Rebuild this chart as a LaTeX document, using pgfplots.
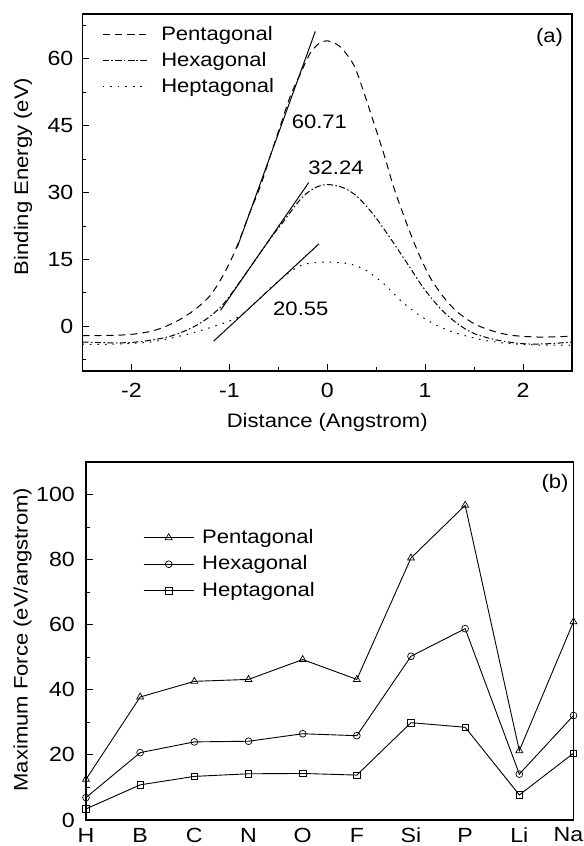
\documentclass[border=0pt]{standalone}
\usepackage{fontspec}
\setmainfont{Liberation Sans}[FakeStretch=1.13]
\usepackage{pgfplots}
\pgfplotsset{compat=1.18}
\begin{document}
\fontsize{19.5bp}{23bp}\selectfont
\begin{tikzpicture}
\path[use as bounding box] (0,0) rectangle (584bp,846bp);
\pgfplotsset{
  every axis/.append style={
    scale only axis,
    axis line style={line width=1.3bp},
    tick align=inside,
    tick pos=left,
    major tick length=7bp,
    minor tick length=3.5bp,
    tick style={line width=0.9bp,black},
    /pgf/number format/assume math mode=true,
    tick label style={font=\fontsize{20.5bp}{24bp}\selectfont},
    xticklabel style={anchor=center, inner sep=0pt, yshift=-19bp},
    yticklabel style={anchor=east, inner sep=0pt, xshift=-9bp},
    legend cell align=left,
  },
}
% ---------------- panel (a) ----------------
\begin{axis}[
  at={(82.5bp,475bp)}, anchor=south west,
  width=489.5bp, height=357bp,
  xmin=-2.5, xmax=2.5, ymin=-10, ymax=70,
  xtick={-2,-1,0,1,2}, xticklabels={-2,-1,0,1,2},
  minor xtick={-1.5,-0.5,0.5,1.5},
  ytick={0,15,30,45,60}, yticklabels={0,15,30,45,60},
  minor ytick={-7.5,7.5,22.5,37.5,52.5,67.5},
  xlabel={Distance (Angstrom)},
  ylabel={Binding Energy (eV)},
  xlabel style={at={(axis description cs:0.5,-0.143)}, anchor=center, inner sep=0pt},
  ylabel style={at={(axis description cs:-0.1216,0.545)}, anchor=center, inner sep=0pt},
  legend image code/.code={\draw plot coordinates {(0bp,0bp) (45bp,0bp)};},
  legend style={at={(axis description cs:0.04,0.966)}, anchor=north west,
    draw=none, fill=none, inner sep=0pt, row sep=9bp,
    nodes={inner sep=0pt},
    /tikz/every odd column/.append style={column sep=13bp}},
]
\addplot[black, line width=1bp, dash pattern=on 7bp off 5bp, smooth] coordinates {
(-2.5,-2.1) (-2.2,-2.0) (-2.0,-1.8) (-1.8,-1.1) (-1.65,0.0) (-1.5,1.6)
(-1.35,3.8) (-1.2,6.8) (-1.08,10.8) (-0.97,15.5) (-0.88,20.3) (-0.8,25.0)
(-0.68,31.6) (-0.58,38.3) (-0.47,45.6) (-0.37,52.0) (-0.27,56.8) (-0.18,61.0)
(-0.09,63.3) (0,64.0) (0.13,62.7) (0.27,58.6) (0.37,52.7) (0.47,46.0)
(0.58,38.5) (0.68,31.1) (0.80,23.7) (0.92,17.0) (1.05,11.0) (1.19,6.5)
(1.33,3.2) (1.5,0.6) (1.67,-0.9) (1.88,-2.0) (2.18,-2.4) (2.5,-2.2)
};
\addlegendentry{Pentagonal}
\addplot[black, line width=1bp, dash pattern=on 6bp off 2.5bp on 1.5bp off 2.5bp, smooth] coordinates {
(-2.5,-3.5) (-2.2,-3.7) (-2.0,-3.6) (-1.8,-3.1) (-1.6,-2.2) (-1.4,-0.5)
(-1.23,1.7) (-1.09,4.3) (-0.99,7.0) (-0.85,11.3) (-0.7,16.0) (-0.55,20.6)
(-0.44,23.7) (-0.3,27.8) (-0.2,30.0) (-0.1,31.3) (0,31.8) (0.16,31.1)
(0.30,29.2) (0.47,25.1) (0.64,19.9) (0.82,14.0) (0.99,8.4) (1.16,3.9)
(1.33,0.6) (1.5,-1.6) (1.74,-3.1) (2.01,-3.9) (2.25,-3.9) (2.5,-3.5)
};
\addlegendentry{Hexagonal}
\addplot[black, line width=1bp, dash pattern=on 1.5bp off 6bp, smooth] coordinates {
(-2.5,-4.0) (-2.2,-4.0) (-1.8,-3.5) (-1.47,-2.0) (-1.3,-1.0) (-1.13,0.2)
(-1.0,1.2) (-0.88,2.5) (-0.75,5.0) (-0.58,8.6) (-0.45,11.0) (-0.37,12.4)
(-0.25,13.8) (-0.12,14.3) (0,14.4) (0.23,14.0) (0.40,12.5) (0.58,9.5)
(0.75,5.8) (0.92,2.8) (1.12,0.2) (1.33,-1.6) (1.6,-3.1) (1.88,-3.9)
(2.2,-4.2) (2.5,-4.2)
};
\addlegendentry{Heptagonal}
% tangent lines
\addplot[black, line width=1bp, forget plot] coordinates {(-0.92,17.7) (-0.122,66.1)};
\addplot[black, line width=1bp, forget plot] coordinates {(-1.09,3.6) (-0.19,32.2)};
\addplot[black, line width=1bp, forget plot] coordinates {(-1.16,-3.3) (-0.084,18.5)};
\node[inner sep=0pt] at (axis cs:-0.08,45.8) {60.71};
\node[inner sep=0pt] at (axis cs:0.09,35.5) {32.24};
\node[inner sep=0pt] at (axis cs:-0.27,4.0) {20.55};
\node[inner sep=0pt] at (axis cs:2.27,64.7) {(a)};
\end{axis}
% ---------------- panel (b) ----------------
\begin{axis}[
  at={(86bp,26bp)}, anchor=south west,
  width=487.5bp, height=358bp,
  xmin=0, xmax=9, ymin=0, ymax=110,
  xtick={0,...,9},
  xticklabels={H,B,C,N,O,F,Si,P,Li,\kern-10bp Na},
  xtick style={draw=none},
  ytick={0,20,40,60,80,100}, yticklabels={0,20,40,60,80,100},
  minor ytick={10,30,50,70,90},
  xticklabel style={yshift=4bp},
  yticklabel style={xshift=-2bp},
  ylabel={Maximum Force (eV/angstrom)},
  ylabel style={at={(axis description cs:-0.130,0.504)}, anchor=center, inner sep=0pt},
  legend image code/.code={\draw[mark repeat=2,mark phase=2] plot coordinates {(0bp,0bp) (25bp,0bp) (50bp,0bp)};},
  legend style={at={(axis description cs:0.117,0.813)}, anchor=north west,
    draw=none, fill=none, inner sep=0pt, row sep=9.5bp,
    nodes={inner sep=0pt},
    /tikz/every odd column/.append style={column sep=8bp}},
]
\addplot[black, line width=0.9bp, mark=triangle, mark size=4bp, mark options={solid, fill=white, line width=0.7bp}] coordinates {
(0,12.5) (1,37.8) (2,42.6) (3,43.2) (4,49.3) (5,43.2) (6,80.5) (7,96.7) (8,21.3) (9,60.9)
};
\addlegendentry{Pentagonal}
\addplot[black, line width=0.9bp, mark=o, mark size=3.4bp, mark options={solid, fill=white, line width=0.7bp}] coordinates {
(0,6.9) (1,20.7) (2,24.0) (3,24.2) (4,26.5) (5,25.9) (6,50.3) (7,58.8) (8,14.1) (9,32.1)
};
\addlegendentry{Hexagonal}
\addplot[black, line width=0.9bp, mark=square, mark size=3.2bp, mark options={solid, fill=white, line width=0.7bp}] coordinates {
(0,3.4) (1,10.8) (2,13.4) (3,14.2) (4,14.3) (5,13.8) (6,29.9) (7,28.5) (8,7.7) (9,20.5)
};
\addlegendentry{Heptagonal}
\node[inner sep=0pt] at (axis cs:8.66,103.5) {(b)};
\end{axis}
\end{tikzpicture}
\end{document}
